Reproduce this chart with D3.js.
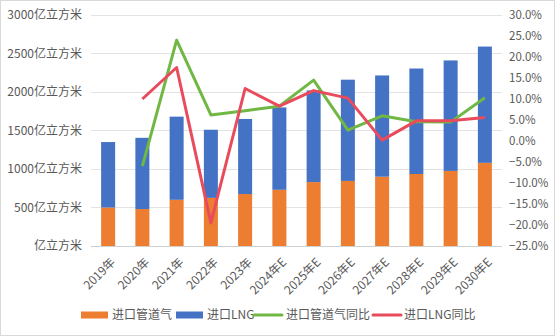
<!DOCTYPE html>
<html><head><meta charset="utf-8">
<script src="https://cdn.jsdelivr.net/npm/d3@7"></script>
<style>body{margin:0;background:#fff}svg{display:block}</style>
</head><body>
<svg id="c" width="555" height="336"></svg>
<script>
const categories = ["2019年","2020年","2021年","2022年","2023年","2024年E","2025年E","2026年E","2027年E","2028年E","2029年E","2030年E"];
const pipeline = [500,480,600,625,675,730,830,845,900,935,975,1080];
const lng = [850,925,1080,885,975,1070,1190,1315,1315,1370,1435,1510];
const pipelineYoY = [null,-6.0,24.0,6.2,7.2,8.3,14.5,2.6,6.0,4.6,4.5,10.3];
const lngYoY = [null,10.0,17.5,-19.5,12.5,8.3,12.0,10.2,0.2,4.8,4.8,5.6];
const leftTicks = [0,500,1000,1500,2000,2500,3000];
const rightTicks = [-25,-20,-15,-10,-5,0,5,10,15,20,25,30];
const unit = "亿立方米";
const legendNames = ["进口管道气","进口LNG","进口管道气同比","进口LNG同比"];

const colors = {pipe:"#ed7d31", lng:"#4472c4", pipeY:"#70b843", lngY:"#e84c5c"};
const font = "'Noto Sans CJK SC','Noto Sans',sans-serif";
const svg = d3.select("#c");
svg.append("rect").attr("x",0.5).attr("y",0.5).attr("width",554).attr("height",335).attr("fill","#fff").attr("stroke","#d9d9d9");

const L=91,R=502,T=15,B=246;
const x = d3.scaleBand().domain(categories).range([L,R]);
const yL = d3.scaleLinear().domain([0,3000]).range([B,T]);
const yR = d3.scaleLinear().domain([-25,30]).range([B,T]);

// gridlines
svg.append("g").selectAll("line").data(leftTicks).join("line")
  .attr("x1",L).attr("x2",R).attr("y1",d=>yL(d)).attr("y2",d=>yL(d))
  .attr("stroke",d=>d===0?"#d0d0d0":"#e3e3e3").attr("stroke-width",1).attr("shape-rendering","crispEdges");

// left axis labels
svg.append("g").selectAll("text").data(leftTicks).join("text")
  .attr("x",82).attr("y",d=>yL(d)).attr("dy","0.35em").attr("text-anchor","end")
  .attr("font-family",font).attr("font-size",12).attr("fill","#595959")
  .text(d=>(d===0?"":d)+unit);

// right axis labels
svg.append("g").selectAll("text").data(rightTicks).join("text")
  .attr("x",509).attr("y",d=>yR(d)).attr("dy","0.35em").attr("text-anchor","start")
  .attr("font-family",font).attr("font-size",11.5).attr("fill","#595959")
  .text(d=>d3.format(".1f")(d)+"%");

// bars
const bw = 14;
const bars = svg.append("g");
bars.selectAll(".p").data(categories).join("rect")
  .attr("x",d=>x(d)+x.bandwidth()/2-bw/2).attr("width",bw)
  .attr("y",(d,i)=>yL(pipeline[i])).attr("height",(d,i)=>yL(0)-yL(pipeline[i]))
  .attr("fill",colors.pipe);
bars.selectAll(".l").data(categories).join("rect")
  .attr("x",d=>x(d)+x.bandwidth()/2-bw/2).attr("width",bw)
  .attr("y",(d,i)=>yL(pipeline[i]+lng[i])).attr("height",(d,i)=>yL(pipeline[i])-yL(pipeline[i]+lng[i]))
  .attr("fill",colors.lng);

// lines
const line = d3.line().defined(d=>d.v!==null).x(d=>x(d.c)+x.bandwidth()/2).y(d=>yR(d.v));
svg.append("path").datum(categories.map((c,i)=>({c,v:pipelineYoY[i]})))
  .attr("d",line).attr("fill","none").attr("stroke",colors.pipeY).attr("stroke-width",3).attr("stroke-linejoin","round");
svg.append("path").datum(categories.map((c,i)=>({c,v:lngYoY[i]})))
  .attr("d",line).attr("fill","none").attr("stroke",colors.lngY).attr("stroke-width",3).attr("stroke-linejoin","round");

// x labels
svg.append("g").selectAll("text").data(categories).join("text")
  .attr("transform",d=>`translate(${x(d)+x.bandwidth()/2+5},${B+14}) rotate(-45)`)
  .attr("text-anchor","end").attr("dy","0.35em")
  .attr("font-family",font).attr("font-size",12).attr("fill","#595959")
  .text(d=>d);

// legend
const lg = svg.append("g").attr("font-family",font).attr("font-size",12).attr("fill","#595959");
const items = [
  {x:81, type:"rect", color:colors.pipe, tx:112},
  {x:176, type:"rect", color:colors.lng, tx:207},
  {x:254, type:"line", color:colors.pipeY, tx:286},
  {x:373, type:"line", color:colors.lngY, tx:404}
];
const ly = 315;
items.forEach((it,i)=>{
  if(it.type==="rect") lg.append("rect").attr("x",it.x).attr("y",ly-3.5).attr("width",27).attr("height",7).attr("fill",it.color);
  else lg.append("line").attr("x1",it.x).attr("x2",it.x+28).attr("y1",ly).attr("y2",ly).attr("stroke",it.color).attr("stroke-width",3).attr("stroke-linecap","round");
  lg.append("text").attr("x",it.tx).attr("y",ly).attr("dy","0.36em").text(legendNames[i]);
});
</script>
</body></html>
